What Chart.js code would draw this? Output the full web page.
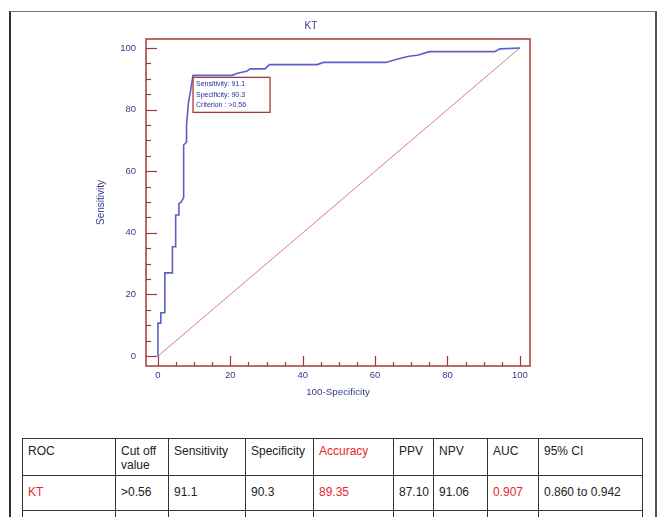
<!DOCTYPE html>
<html>
<head>
<meta charset="utf-8">
<script src="https://cdn.jsdelivr.net/npm/chart.js@4.4.1/dist/chart.umd.min.js"></script>
<style>
  body { margin: 0; background: #fff; width: 658px; height: 517px; overflow: hidden; position: relative; font-family: "Liberation Sans", Arial, sans-serif; }
  #frame { position: absolute; left: 9px; top: 11px; width: 644px; height: 520px; border-left: 2px solid #333; border-top: 1px solid #777; border-right: 2px solid #555; }
  #rocChart { position: absolute; left: 0; top: 0; }
  table { position: absolute; left: 22px; top: 438px; border-collapse: collapse; table-layout: fixed; width: 620px; font-size: 12px; color: #222; }
  td { border: 1px solid #333; vertical-align: top; padding: 5px 3px 0 5px; line-height: 14px; }
  tr.head td { height: 31px; }
  tr.vals td { height: 25px; padding-top: 9px; }
  tr.rest td { height: 20px; }
  .red { color: #e8262c; }
</style>
</head>
<body>
<div id="frame"></div>
<canvas id="rocChart" width="658" height="420"></canvas>

<table>
  <colgroup>
    <col style="width:93px"><col style="width:53px"><col style="width:77px"><col style="width:68px">
    <col style="width:80px"><col style="width:40px"><col style="width:54px"><col style="width:51px"><col style="width:104px">
  </colgroup>
  <tr class="head">
    <td>ROC</td><td>Cut off value</td><td>Sensitivity</td><td>Specificity</td>
    <td class="red">Accuracy</td><td>PPV</td><td>NPV</td><td>AUC</td><td>95% CI</td>
  </tr>
  <tr class="vals">
    <td class="red">KT</td><td>&gt;0.56</td><td>91.1</td><td>90.3</td>
    <td class="red">89.35</td><td>87.10</td><td>91.06</td><td class="red">0.907</td><td>0.860 to 0.942</td>
  </tr>
  <tr class="rest">
    <td></td><td></td><td></td><td></td><td></td><td></td><td></td><td></td><td></td>
  </tr>
</table>

<script>
// ROC curve points (100-Specificity, Sensitivity)
const fprValues = [0, 0, 0.8, 0.8, 1.9, 1.9, 4.0, 4.0, 4.9, 4.9, 5.8, 5.8, 6.4, 7.1, 7.1, 7.9, 7.9, 8.4, 9.0, 9.7,
                   20.5, 22, 24.5, 25.5, 29.6, 30.8, 44, 45.7, 63, 66, 69, 72, 75, 93, 94.5, 100];
const tprValues = [0, 10.7, 10.7, 14.1, 14.1, 27.0, 27.0, 35.5, 35.5, 45.8, 45.8, 49.5, 50, 51.4, 68.5, 69.5, 75, 82, 86, 91.1,
                   91.1, 91.8, 92.4, 93.2, 93.2, 94.6, 94.6, 95.3, 95.3, 96.3, 97.2, 97.7, 98.8, 98.8, 99.7, 100];

// reference diagonal
const refX = [0, 100];
const refY = [0, 100];

const tickValues = [0, 20, 40, 60, 80, 100];

// cut off point label
const cutoffPoint = [9.7, 91.1];
const cutoffLabels = ['Sensitivity: 91.1', 'Specificity: 90.3', 'Criterion : >0.56'];

const frameColor = '#a33a3a';
const labelColor = '#343c8e';

// frame round the plot plus inward ticks (major every 20, minor every 5)
const framePlugin = {
    id: 'framePlugin',
    afterDraw(chart) {
        const ctx = chart.ctx;
        const area = chart.chartArea;
        const xs = chart.scales.x;
        const ys = chart.scales.y;
        ctx.save();
        ctx.strokeStyle = frameColor;
        ctx.lineWidth = 1.5;
        ctx.strokeRect(area.left, area.top, area.right - area.left, area.bottom - area.top);
        ctx.lineWidth = 1.2;
        for (let v = 0; v <= 100; v += 5) {
            const major = v % 20 === 0;
            const py = Math.round(ys.getPixelForValue(v)) + 0.5;
            ctx.beginPath();
            ctx.moveTo(area.left, py);
            ctx.lineTo(area.left + (major ? 11 : 5), py);
            ctx.stroke();
            const px = Math.round(xs.getPixelForValue(v)) + 0.5;
            ctx.beginPath();
            ctx.moveTo(px, area.bottom);
            ctx.lineTo(px, area.bottom - (major ? 10 : 4));
            ctx.stroke();
        }
        ctx.restore();
    }
};

// small box with the cut off values
const cutoffPlugin = {
    id: 'cutoffPlugin',
    afterDatasetsDraw(chart) {
        const ctx = chart.ctx;
        const px = chart.scales.x.getPixelForValue(cutoffPoint[0]);
        const py = chart.scales.y.getPixelForValue(cutoffPoint[1]) + 2;
        ctx.save();
        ctx.strokeStyle = frameColor;
        ctx.lineWidth = 1.3;
        ctx.strokeRect(px, py, 77, 35);
        ctx.fillStyle = '#2a2f9a';
        ctx.font = '7px "Liberation Sans", Arial, sans-serif';
        ctx.textBaseline = 'middle';
        cutoffLabels.forEach((t, i) => ctx.fillText(t, px + 3, py + 7 + i * 10.5));
        ctx.restore();
    }
};

const ctx = document.getElementById('rocChart').getContext('2d');
const rocChart = new Chart(ctx, {
    type: 'line',
    data: {
        datasets: [{
            data: fprValues.map((x, i) => ({ x: x, y: tprValues[i] })),
            borderColor: '#5a60c8',
            borderWidth: 1.6,
            pointRadius: 0,
            tension: 0
        }, {
            data: refX.map((x, i) => ({ x: x, y: refY[i] })),
            borderColor: '#e07878',
            borderWidth: 1,
            pointRadius: 0
        }]
    },
    options: {
        responsive: false,
        animation: false,
        layout: { padding: { left: 92, right: 128, top: 0, bottom: 20 } },
        scales: {
            x: {
                type: 'linear',
                min: -3.3,
                max: 102.8,
                afterBuildTicks: (s) => { s.ticks = tickValues.map(v => ({ value: v })); },
                afterFit: (s) => { s.height = 34; },
                grid: { display: false, drawTicks: false },
                border: { display: false },
                ticks: { padding: 4, color: labelColor, font: { size: 9.5 }, maxRotation: 0 },
                title: { display: true, text: '100-Specificity', color: labelColor, font: { size: 9.8 }, padding: { top: 3, bottom: 2 } }
            },
            y: {
                type: 'linear',
                min: -3.2,
                max: 102.9,
                afterBuildTicks: (s) => { s.ticks = tickValues.map(v => ({ value: v })); },
                afterFit: (s) => { s.width = 54; },
                grid: { display: false, drawTicks: false },
                border: { display: false },
                ticks: { padding: 10, color: labelColor, font: { size: 9.5 } },
                title: { display: true, text: 'Sensitivity', color: labelColor, font: { size: 10 }, padding: { top: 3, bottom: 3 } }
            }
        },
        plugins: {
            title: {
                display: true,
                text: 'KT',
                color: labelColor,
                font: { size: 10, weight: 'normal' },
                padding: { top: 20, bottom: 7 }
            },
            legend: { display: false },
            tooltip: { enabled: false }
        }
    },
    plugins: [framePlugin, cutoffPlugin]
});
</script>
</body>
</html>
